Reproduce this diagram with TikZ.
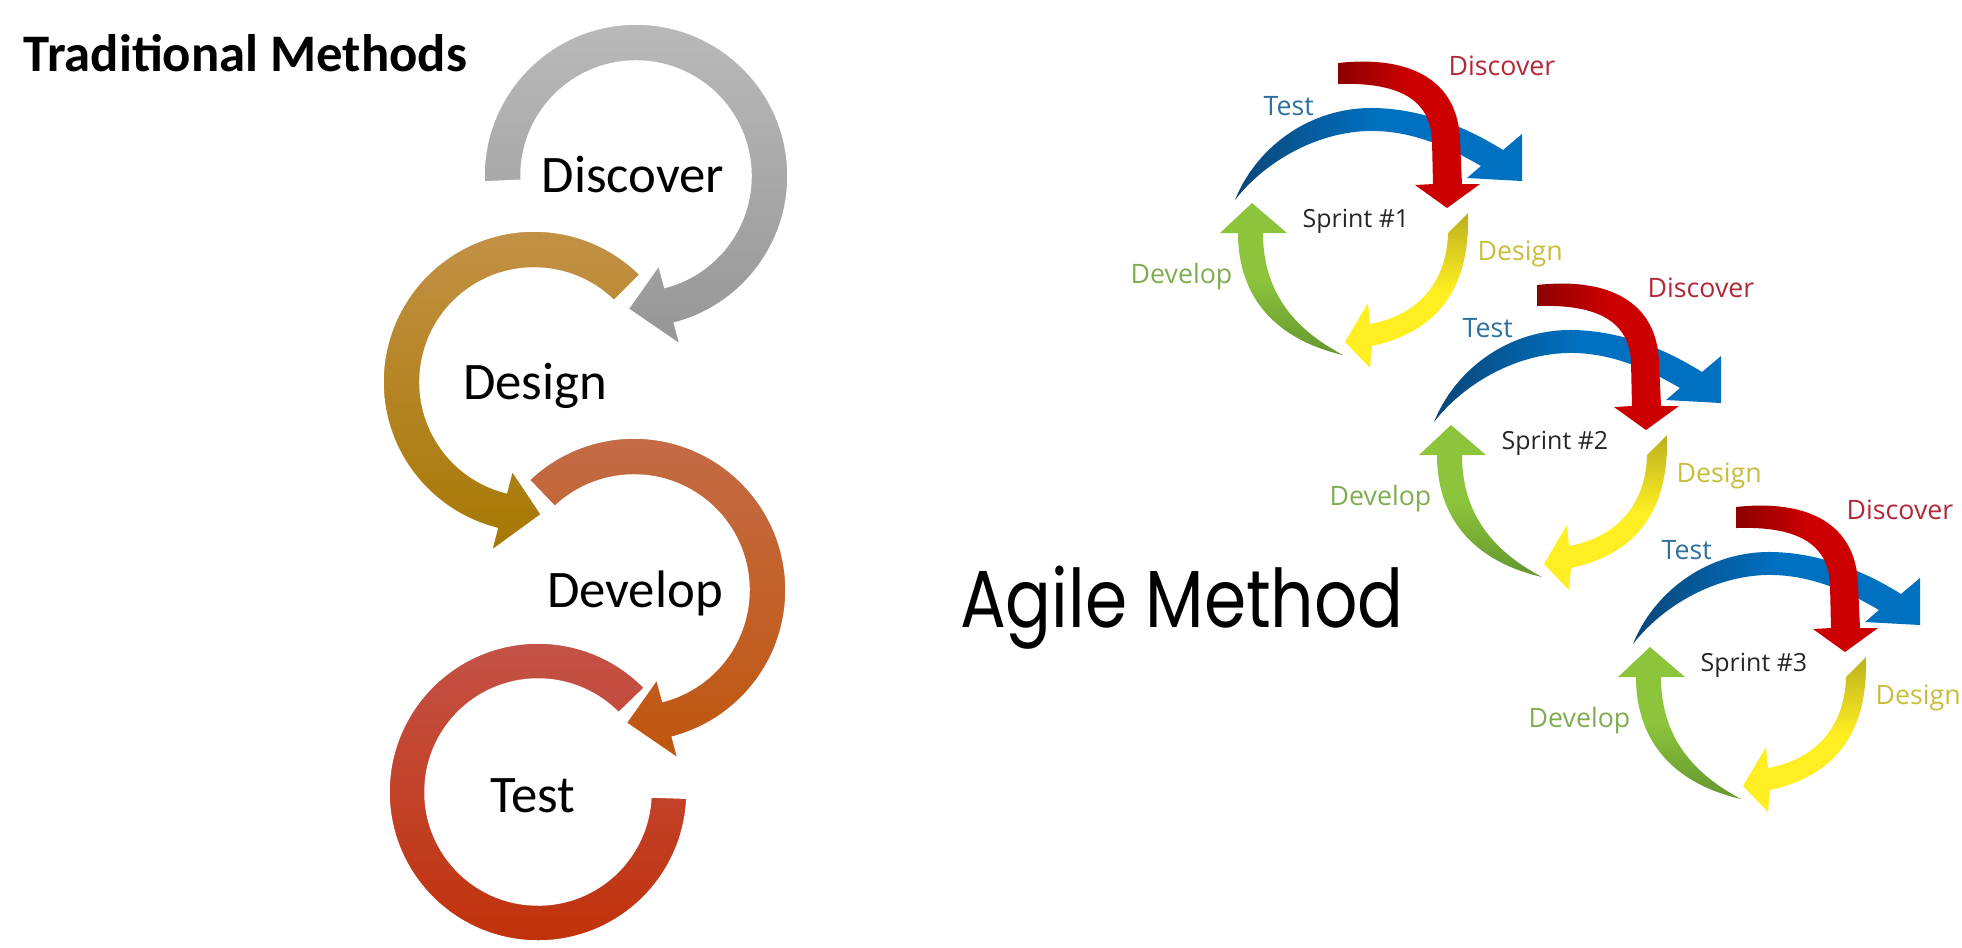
\documentclass[tikz,border=0pt]{standalone}
\usepackage{fontspec}
\setmainfont{Carlito}
\newfontfamily\labelfont{Open Sans}
\newfontfamily\agilefont{Poppins}
\usepackage{graphicx}
\usetikzlibrary{calc}

\definecolor{grayhi}{RGB}{186,186,186}
\definecolor{graylo}{RGB}{150,150,150}
\definecolor{goldhi}{RGB}{196,146,72}
\definecolor{goldlo}{RGB}{166,120,2}
\definecolor{orghi}{RGB}{196,108,72}
\definecolor{orglo}{RGB}{192,86,14}
\definecolor{redhi}{RGB}{196,84,74}
\definecolor{redlo}{RGB}{192,48,8}
\definecolor{testblue}{RGB}{0,112,192}
\definecolor{testdark}{RGB}{10,70,120}
\definecolor{testtext}{RGB}{46,112,160}
\definecolor{discred}{RGB}{204,0,0}
\definecolor{discdark}{RGB}{140,0,0}
\definecolor{disctext}{RGB}{178,40,56}
\definecolor{desyellow}{RGB}{255,238,34}
\definecolor{desdark}{RGB}{188,176,30}
\definecolor{destext}{RGB}{200,190,60}
\definecolor{devgreen}{RGB}{140,196,60}
\definecolor{devdark}{RGB}{100,150,45}
\definecolor{devtext}{RGB}{128,172,80}

\tikzset{
  ring/.style={draw=white, line width=1pt},
  biglabel/.style={font=\fontsize{15}{18}\selectfont, inner sep=0pt, anchor=base},
  sprintlabel/.style={font=\labelfont\fontsize{7.6}{9}\selectfont, inner sep=0pt, anchor=base west},
}

\begin{document}
\begin{tikzpicture}[x=0.01cm,y=0.01cm]
\useasboundingbox (0,0) rectangle (1962,-947);

\node[biglabel, anchor=base west, font=\bfseries\fontsize{15}{18}\selectfont] (trad) at (23,-71) {Traditional Methods};

% traditional rings
\begin{scope}[shift={(636,-176)}]
\shadedraw[ring, top color=grayhi, bottom color=graylo] (182.6:153) arc[start angle=182.6, end angle=-75, radius=153] -- (-75:177) -- (-94:133.5) -- (-75:90) -- (-75:114) arc[start angle=-75, end angle=182.6, radius=114] -- cycle;
\end{scope}

\begin{scope}[shift={(534,-382)}]
\shadedraw[ring, top color=goldhi, bottom color=goldlo] (45:152) arc[start angle=45, end angle=255.5, radius=152] -- (255.5:177) -- (273.8:133) -- (255.5:89) -- (255.5:113) arc[start angle=255.5, end angle=45, radius=113] -- cycle;
\end{scope}

\begin{scope}[shift={(634,-590)}]
\shadedraw[ring, top color=orghi, bottom color=orglo] (134:153) arc[start angle=134, end angle=-75, radius=153] -- (-75:177) -- (-94:133.5) -- (-75:90) -- (-75:114) arc[start angle=-75, end angle=134, radius=114] -- cycle;
\end{scope}

\begin{scope}[shift={(538,-792)}]
\shadedraw[ring, top color=redhi, bottom color=redlo] (44:150) arc[start angle=44, end angle=358, radius=150] -- (358:112) arc[start angle=358, end angle=44, radius=112] -- cycle;
\end{scope}

\node[biglabel] (tdisc) at (633,-192) {Discover};
\node[biglabel] (tdes) at (535,-399) {Design};
\node[biglabel] (tdev) at (635,-607) {Develop};
\node[biglabel] (ttest) at (533,-812) {Test};

\node[anchor=base, inner sep=0pt, font=\agilefont\fontsize{23}{28}\selectfont] (agile) at (1182,-627) {\scalebox{0.84}[1]{Agile Method}};

% sprints
\foreach \i/\n in {0/1,1/2,2/3}{
\begin{scope}[shift={({199*\i},{-222*\i})}]
\shade[left color=testdark, right color=testblue, middle color=testblue]
  (1235,-200) .. controls (1255,-150) and (1305,-110) .. (1367,-108)
  .. controls (1420,-107) and (1468,-128) .. (1503,-150) -- (1522,-134) -- (1522,-181) -- (1467,-178) -- (1481,-166)
  .. controls (1440,-142) and (1405,-130) .. (1367,-131)
  .. controls (1312,-133) and (1262,-165) .. (1235,-200) -- cycle;
\shade[left color=discdark, right color=discred, middle color=discred]
  (1338,-63) .. controls (1410,-55) and (1458,-80) .. (1460,-140) -- (1462,-184) -- (1480,-184) -- (1447,-208) -- (1415,-185) -- (1433,-184) -- (1432,-140)
  .. controls (1430,-100) and (1400,-82) .. (1338,-84) -- cycle;
\shade[top color=desdark, bottom color=desyellow, middle color=desyellow]
  (1468,-213) .. controls (1470,-280) and (1445,-330) .. (1372,-346) -- (1370,-368) -- (1345,-342) -- (1368,-303) -- (1370,-324)
  .. controls (1420,-315) and (1447,-280) .. (1448,-233) -- cycle;
\shade[top color=devgreen, bottom color=devdark, middle color=devgreen]
  (1343,-355) .. controls (1270,-338) and (1238,-292) .. (1238,-233) -- (1220,-233) -- (1252,-203) -- (1287,-233) -- (1263,-233)
  .. controls (1263,-290) and (1292,-328) .. (1343,-355) -- cycle;

\node[sprintlabel, text=disctext] (disc\n) at (1448,-75) {Discover};
\node[sprintlabel, text=testtext] (test\n) at (1263,-115) {Test};
\node[sprintlabel, text=destext] (des\n) at (1477,-260) {Design};
\node[sprintlabel, text=devtext] (dev\n) at (1130,-283) {Develop};
\node[sprintlabel, text=black!85, font=\labelfont\fontsize{7.1}{9}\selectfont] (spr\n) at (1302,-227) {Sprint \#\n};
\end{scope}
}

\end{tikzpicture}
\end{document}
